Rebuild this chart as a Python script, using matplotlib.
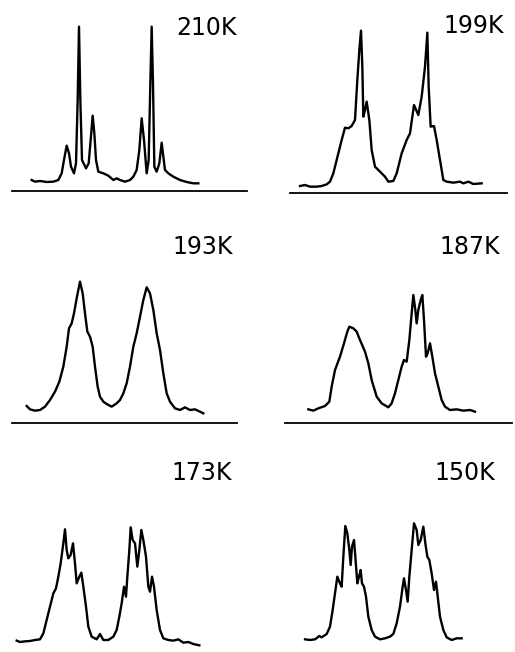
import matplotlib
matplotlib.use("Agg")
import matplotlib.pyplot as plt

# spectra: position (arb. units) and intensity (arb. units)
labels = ["210K", "199K", "193K", "187K", "173K", "150K"]

x_210 = [95, 105, 120, 140, 160, 175, 185, 192, 200, 207, 213, 222, 228, 233, 237, 241, 246, 258, 266, 272,
         278, 283, 288, 295, 310, 325, 340, 350, 360, 375, 390, 400, 410, 418, 425, 432, 440, 446, 451, 455,
         459, 463, 470, 478, 485, 490, 495, 505, 520, 540, 560, 580, 595]
i_210 = [32, 27, 29, 26, 27, 32, 52, 92, 135, 112, 72, 52, 82, 272, 492, 272, 92, 67, 82, 152,
         225, 172, 92, 57, 52, 45, 32, 37, 32, 27, 32, 42, 62, 122, 217, 152, 52, 92, 322, 492,
         322, 72, 57, 82, 144, 102, 62, 52, 42, 32, 26, 22, 22]

x_199 = [120, 135, 150, 170, 185, 200, 210, 220, 230, 245, 255, 265, 275, 285, 292, 298, 303, 307, 310, 315,
         320, 328, 335, 345, 360, 375, 385, 400, 410, 425, 440, 450, 462, 475, 485, 495, 502, 506, 512, 522,
         530, 540, 550, 560, 580, 600, 610, 625, 640, 665]
i_199 = [20, 23, 18, 18, 20, 25, 33, 58, 98, 158, 195, 193, 200, 218, 338, 428, 486, 378, 228, 248,
         273, 218, 128, 78, 63, 48, 33, 35, 58, 118, 158, 178, 263, 233, 288, 378, 480, 318, 198, 200,
         158, 98, 38, 33, 30, 33, 28, 33, 26, 28]

x_193 = [80, 90, 105, 120, 135, 150, 165, 178, 190, 200, 207, 215, 222, 230, 240, 248, 255, 262, 270, 278,
         285, 293, 300, 310, 320, 335, 350, 360, 370, 380, 390, 400, 410, 420, 430, 440, 450, 460, 470, 480,
         490, 500, 510, 525, 540, 555, 570, 585, 600, 610]
i_193 = [50, 40, 36, 38, 48, 68, 93, 123, 168, 228, 283, 298, 328, 373, 423, 388, 328, 273, 258, 228,
         168, 108, 78, 63, 56, 48, 58, 68, 88, 118, 168, 228, 268, 318, 368, 406, 388, 338, 268, 218,
         148, 88, 63, 43, 38, 46, 38, 40, 33, 28]

x_187 = [145, 160, 175, 195, 208, 215, 225, 240, 252, 262, 268, 280, 290, 300, 315, 325, 335, 350, 365, 385,
         395, 405, 415, 425, 432, 440, 448, 455, 460, 466, 470, 475, 482, 487, 492, 498, 503, 510, 517, 525,
         535, 545, 555, 570, 590, 610, 630, 645]
i_187 = [40, 36, 43, 50, 63, 108, 158, 198, 238, 273, 288, 283, 273, 248, 213, 178, 128, 78, 58, 46,
         58, 88, 128, 168, 188, 183, 248, 328, 383, 338, 298, 338, 368, 383, 308, 198, 208, 238, 198, 148,
         108, 68, 48, 38, 40, 36, 38, 33]

x_173 = [50, 60, 75, 90, 105, 120, 130, 140, 150, 160, 168, 175, 182, 190, 195, 200, 205, 212, 219, 225,
         230, 238, 244, 250, 258, 265, 275, 290, 300, 310, 325, 340, 350, 358, 365, 372, 378, 382, 388, 392,
         398, 405, 412, 418, 424, 430, 438, 445, 450, 456, 462, 470, 480, 490, 505, 520, 535, 550, 565, 580, 598]
i_173 = [28, 24, 26, 27, 30, 32, 50, 90, 130, 170, 185, 220, 260, 320, 362, 300, 275, 285, 320, 260,
         200, 220, 232, 190, 130, 70, 40, 32, 48, 30, 30, 40, 60, 100, 140, 190, 160, 220, 300, 368,
         330, 320, 250, 300, 360, 330, 280, 190, 175, 220, 190, 120, 60, 35, 30, 28, 32, 22, 24, 18, 14]

x_150 = [135, 150, 165, 178, 185, 200, 210, 218, 225, 232, 240, 245, 250, 256, 262, 268, 272, 276, 282, 286,
         292, 297, 302, 306, 312, 318, 325, 335, 345, 360, 375, 390, 400, 410, 420, 428, 432, 438, 443, 448,
         455, 462, 470, 475, 482, 490, 496, 502, 508, 515, 522, 528, 532, 540, 550, 560, 575, 590, 605]
i_150 = [32, 30, 32, 42, 38, 48, 70, 120, 170, 220, 200, 190, 280, 372, 350, 300, 255, 310, 330, 280,
         200, 220, 240, 200, 190, 160, 100, 60, 40, 32, 35, 40, 48, 80, 130, 190, 215, 180, 145, 220,
         300, 380, 360, 315, 330, 370, 320, 280, 270, 230, 180, 205, 170, 100, 60, 38, 30, 35, 35]

xs = [x_210, x_199, x_193, x_187, x_173, x_150]
ints = [i_210, i_199, i_193, i_187, i_173, i_150]
# extent of the drawn zero line (None = no line)
base_from = [35, 90, 35, 75, None, None]
base_to = [740, 740, 710, 755, None, None]

W, H = 515, 652
fig = plt.figure(figsize=(W / 100, H / 100), dpi=100)

# panel boxes in pixels: left, top, width, height, and top of y range
boxes = [(0, 0, 260, 200, 572), (260, 0, 255, 200, 578),
         (0, 200, 260, 230, 668), (260, 200, 255, 230, 668),
         (0, 430, 260, 222, 660), (260, 430, 255, 222, 660)]
label_pos = [(621, 467), (640, 479), (608, 506), (630, 506), (605, 510), (615, 510)]

for k in range(6):
    left, top, w, h, ytop = boxes[k]
    ax = fig.add_axes([left / W, 1 - (top + h) / H, w / W, h / H])
    ax.plot(xs[k], ints[k], color="black", lw=1.7, solid_joinstyle="round")
    if base_from[k] is not None:
        ax.plot([base_from[k], base_to[k]], [0, 0], color="black", lw=1.3)
    ax.text(label_pos[k][0], label_pos[k][1], labels[k], fontsize=17,
            ha="center", va="baseline", color="black")
    ax.set_xlim(0, 3 * w)
    ax.set_ylim(ytop - 3 * h, ytop)
    ax.axis("off")

fig.savefig("out.png", dpi=100)
